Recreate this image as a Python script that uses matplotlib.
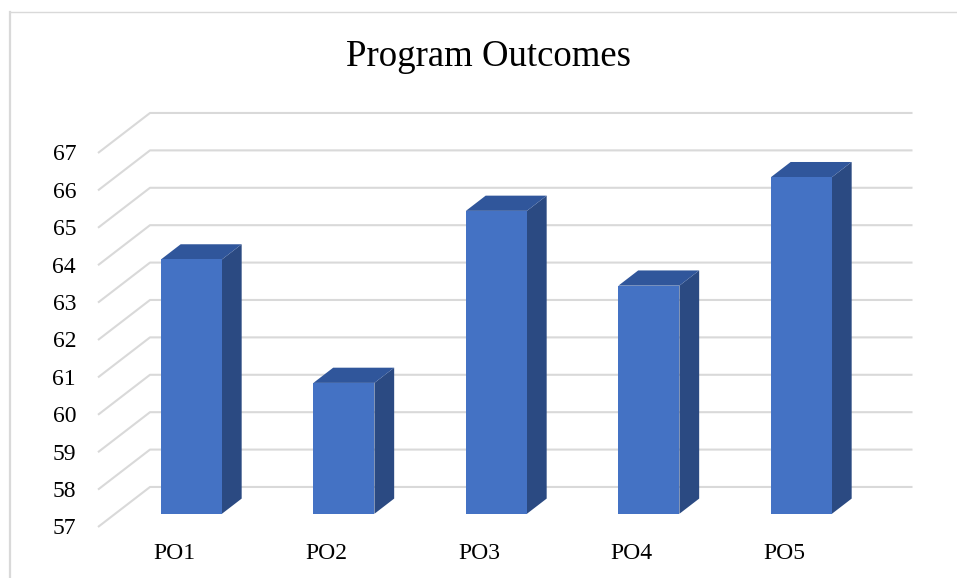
import matplotlib
matplotlib.use('Agg')
import matplotlib.pyplot as plt
from matplotlib.patches import Polygon
from matplotlib.lines import Line2D

# ── Data ─────────────────────────────────────────────────────
categories = ['PO1', 'PO2', 'PO3', 'PO4', 'PO5']
values     = [63.8, 60.5, 65.1, 63.1, 66.0]
y_ticks    = list(range(57, 68))
title      = 'Program Outcomes'

# ── Look ─────────────────────────────────────────────────────
FRONT = '#4472C4'
TOP   = '#30569B'
SIDE  = '#2B4A82'
GRID  = '#D9D9D9'
FONT  = 'Liberation Serif'

W, H = 957, 578
DX, DY = 0.341, 1.07        # full depth of the 3-D box, in data units
BAR_F0, BAR_F1 = 0.33, 0.71  # bar front / back as fraction of depth
BAR_W = 0.40

fig = plt.figure(figsize=(W / 100, H / 100), dpi=100)
ax = fig.add_axes([0, 0, 1, 1])
# pixel -> data mapping: x_px = 98 + (x + 0.5) * 152.5, y_px = 527 - (v - 57) * 37.4
ax.set_xlim(-98 / 152.5 - 0.5, (W - 98) / 152.5 - 0.5)
ax.set_ylim(57 - (H - 527) / 37.4, 57 + 527 / 37.4)
ax.axis('off')

x_left, x_right = -0.5, len(categories) - 0.5

# gridlines: diagonal on the side wall then flat on the back wall
for v in y_ticks:
    ax.plot([x_left, x_left + DX, x_right + DX], [v, v + DY, v + DY],
            color=GRID, lw=1.5, solid_capstyle='butt', zorder=1)
    ax.text(x_left - 0.144, v - 0.05, str(v), ha='right', va='center',
            fontsize=17, family=FONT, color='black')

# bars
base = y_ticks[0]
for i, (cat, val) in enumerate(zip(categories, values)):
    x0 = i + BAR_F0 * DX - BAR_W / 2
    x1 = x0 + BAR_W
    y0 = base + BAR_F0 * DY
    y1 = val + BAR_F0 * DY
    ddx = (BAR_F1 - BAR_F0) * DX
    ddy = (BAR_F1 - BAR_F0) * DY
    side = Polygon([(x1, y0), (x1 + ddx, y0 + ddy), (x1 + ddx, y1 + ddy), (x1, y1)],
                   closed=True, facecolor=SIDE, edgecolor='none', zorder=3)
    top = Polygon([(x0, y1), (x1, y1), (x1 + ddx, y1 + ddy), (x0 + ddx, y1 + ddy)],
                  closed=True, facecolor=TOP, edgecolor='none', zorder=3)
    front = Polygon([(x0, y0), (x1, y0), (x1, y1), (x0, y1)],
                    closed=True, facecolor=FRONT, edgecolor='none', zorder=4)
    for p in (side, top, front):
        ax.add_patch(p)
    ax.text(i, base - 0.72, cat, ha='center', va='center',
            fontsize=17, family=FONT, color='black')

# title
fig.text(489 / W, 1 - 57 / H, title, ha='center', va='center',
         fontsize=26.5, family=FONT, color='black')

# chart border (only top and left visible in the crop)
fig.add_artist(Line2D([10 / W, 1], [1 - 12 / H, 1 - 12 / H],
                      transform=fig.transFigure, color=GRID, lw=1.0))
fig.add_artist(Line2D([10 / W, 10 / W], [0, 1 - 12 / H],
                      transform=fig.transFigure, color=GRID, lw=1.6))

fig.savefig('out.png', dpi=100)
